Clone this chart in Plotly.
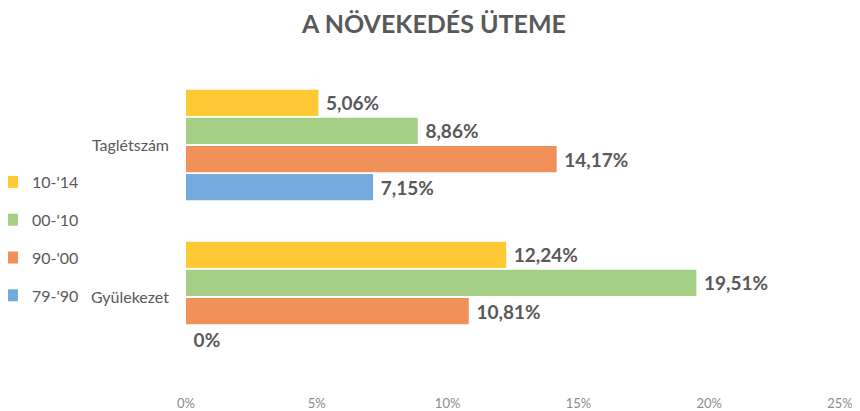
import plotly.graph_objects as go

categories = ["Gyülekezet", "Taglétszám"]
series_names = ["79-'90", "90-'00", "00-'10", "10-'14"]
values = {
    "79-'90": [0.0, 7.15],
    "90-'00": [10.81, 14.17],
    "00-'10": [19.51, 8.86],
    "10-'14": [12.24, 5.06],
}
colors = {
    "79-'90": "#74AADD",
    "90-'00": "#F0915A",
    "00-'10": "#A5CF84",
    "10-'14": "#FFC936",
}
x_ticks = [0, 5, 10, 15, 20, 25]
x_ticklabels = ["0%", "5%", "10%", "15%", "20%", "25%"]


def fmt(v):
    if v == 0:
        s = "0%"
    else:
        s = f"{v:.2f}".replace(".", ",") + "%"
    return "\u00a0" + s


FONT = "Lato, 'Open Sans', sans-serif"
GRAY = "#595959"

# the page body has an 8px default margin, so the figure is 8px smaller
W, H = 852, 403
ML, MR, MT, MB = 178, 20, 61, 38

fig = go.Figure()
n = len(series_names)
for i, name in enumerate(series_names):
    vals = values[name]
    fig.add_trace(go.Bar(
        y=categories,
        x=vals,
        name=name,
        orientation="h",
        marker=dict(color=colors[name], line=dict(width=0)),
        text=[fmt(v) for v in vals],
        textposition="outside",
        textfont=dict(family=FONT, size=19, color=GRAY, weight="bold"),
        cliponaxis=False,
        legendgroup=f"g{i}",
        legendrank=n - i,
        hoverinfo="skip",
    ))

plot_h = H - MT - MB
plot_w = W - ML - MR

fig.update_layout(
    width=W,
    height=H,
    barmode="group",
    bargap=0.26,
    bargroupgap=0.07,
    plot_bgcolor="white",
    paper_bgcolor="white",
    margin=dict(l=ML, r=MR, t=MT, b=MB, autoexpand=False),
    title=dict(
        text="A NÖVEKEDÉS ÜTEME",
        x=0.5,
        xref="container",
        xanchor="center",
        y=1 - 16 / H,
        yanchor="middle",
        font=dict(family=FONT, size=25, color=GRAY, weight="bold"),
    ),
    xaxis=dict(
        range=[0, 25],
        tickvals=x_ticks,
        ticktext=x_ticklabels,
        showgrid=False,
        zeroline=False,
        showline=False,
        ticks="",
        tickfont=dict(family=FONT, size=13, color="#8C8C8C"),
        ticklabelstandoff=21,
        automargin=False,
    ),
    yaxis=dict(
        categoryorder="array",
        categoryarray=categories,
        range=[-0.5, 1.5],
        showgrid=False,
        zeroline=False,
        showline=False,
        ticks="",
        tickfont=dict(family=FONT, size=16, color=GRAY),
        ticklabelstandoff=16,
        automargin=False,
    ),
    legend=dict(
        xref="paper",
        yref="paper",
        x=(-16 - ML) / plot_w,
        y=(H - MB - 157) / plot_h,
        xanchor="left",
        yanchor="top",
        traceorder="grouped",
        tracegroupgap=14,
        font=dict(family=FONT, size=16, color=GRAY),
        itemwidth=30,
    ),
    showlegend=True,
)

fig.write_html("out.html")
